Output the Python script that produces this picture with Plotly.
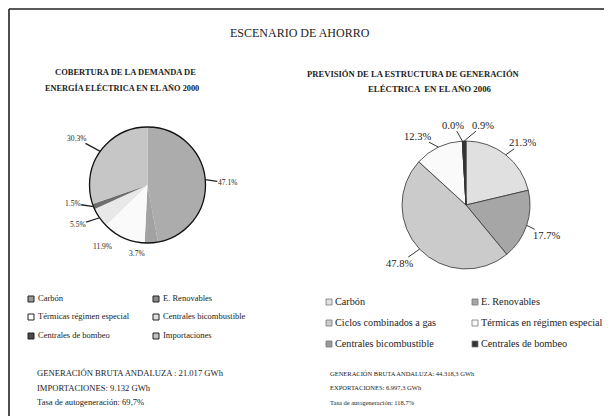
import math
import plotly.graph_objects as go

# ---- data ----
left_labels = ["Carbón", "E. Renovables", "Térmicas régimen especial",
               "Centrales bicombustible", "Centrales de bombeo", "Importaciones"]
left_values = [47.1, 3.7, 11.9, 5.5, 1.5, 30.3]
left_colors = ["#acacac", "#a2a2a2", "#fafafa", "#e8e8e8", "#6e6e6e", "#c6c6c6"]
left_legend_colors = ["#9a9a9a", "#8a8a8a", "#ffffff", "#e0e0e0", "#4a4a4a", "#c0c0c0"]

right_labels = ["Carbón", "E. Renovables", "Ciclos combinados a gas",
                "Térmicas en régimen especial", "Centrales bicombustible", "Centrales de bombeo"]
right_values = [21.3, 17.7, 47.8, 12.3, 0.0, 0.9]
right_colors = ["#e0e0e0", "#a6a6a6", "#cbcbcb", "#fafafa", "#9a9a9a", "#333333"]

main_title = "ESCENARIO DE AHORRO"
left_title = ["COBERTURA DE LA DEMANDA DE", "ENERGÍA ELÉCTRICA EN EL AÑO 2000"]
right_title = ["PREVISIÓN DE LA ESTRUCTURA DE GENERACIÓN", "ELÉCTRICA  EN EL AÑO 2006"]
left_notes = ["GENERACIÓN BRUTA ANDALUZA : 21.017 GWh",
              "IMPORTACIONES: 9.132 GWh",
              "Tasa de autogeneración: 69,7%"]
right_notes = ["GENERACIÓN BRUTA ANDALUZA: 44.318,3 GWh",
               "EXPORTACIONES: 6.997,3 GWh",
               "Tasa de autogeneración: 118,7%"]

SERIF = "Liberation Serif, Times New Roman, serif"

# page body has an 8px margin; the figure fills the rest of the window
OFF = 8
W, H = 612 - OFF, 416 - OFF


def px(x):
    return (x - OFF) / W


def py(y):
    return 1 - (y - OFF) / H


# pie geometry (window pixels)
lcx, lcy, lr = 147.5, 185, 58
rcx, rcy, rr = 466, 205, 64

# label placement (pixel offset of label from the slice edge, leader line or not)
left_label_off = [(22, 3, True), (-14, 11, False), (-21, 9, False),
                  (-22, 7, True), (-21, -3, True), (-24, -13, True)]
right_label_off = [(17, -12, True), (20, 10, True), (-20, 14, True),
                   (-21, -11, True), (-9, -16, True), (19, -16, True)]

fig = go.Figure()
fig.add_trace(go.Pie(
    labels=left_labels, values=left_values, textinfo="none",
    sort=False, direction="clockwise", rotation=0,
    marker=dict(colors=left_colors, line=dict(width=0)),
    domain=dict(x=[px(lcx - lr), px(lcx + lr)], y=[py(lcy + lr), py(lcy - lr)]),
    showlegend=False, automargin=False, hoverinfo="label+percent",
))
fig.add_trace(go.Pie(
    labels=right_labels, values=right_values, textinfo="none",
    sort=False, direction="clockwise", rotation=0,
    marker=dict(colors=right_colors, line=dict(width=0.8, color="#333")),
    domain=dict(x=[px(rcx - rr), px(rcx + rr)], y=[py(rcy + rr), py(rcy - rr)]),
    showlegend=False, automargin=False, hoverinfo="label+percent",
))

shapes = []
annotations = []

# frame
shapes.append(dict(type="line", xref="paper", yref="paper", x0=px(9), x1=1, y0=py(9), y1=py(9),
                   line=dict(color="#222", width=1.6)))
shapes.append(dict(type="line", xref="paper", yref="paper", x0=px(9), x1=px(9), y0=py(9), y1=0,
                   line=dict(color="#222", width=1.6)))
# outer border of left pie
shapes.append(dict(type="circle", xref="paper", yref="paper",
                   x0=px(lcx - lr), x1=px(lcx + lr), y0=py(lcy + lr), y1=py(lcy - lr),
                   line=dict(color="#111", width=1.3)))


def text(x, y, s, size, bold=False, anchor="left"):
    annotations.append(dict(
        x=px(x), y=py(y), xref="paper", yref="paper", text=f"<b>{s}</b>" if bold else s,
        showarrow=False, xanchor=anchor, yanchor="middle",
        font=dict(family=SERIF, size=size, color="#222")))


def pie_labels(values, cx, cy, r, offs, size, lw):
    total = sum(values)
    cum = 0.0
    for v, (dx, dy, line) in zip(values, offs):
        theta = 2 * math.pi * (cum + v / 2) / total
        cum += v
        ex, ey = cx + r * math.sin(theta), cy - r * math.cos(theta)
        s = f"{v:.1f}%"
        if line:
            annotations.append(dict(
                x=px(ex), y=py(ey), xref="paper", yref="paper", text=s,
                showarrow=True, arrowhead=0, arrowwidth=lw, arrowcolor="#222",
                ax=dx, ay=dy, standoff=0, startstandoff=0, borderpad=0,
                font=dict(family=SERIF, size=size, color="#222")))
        else:
            text(ex + dx, ey + dy, s, size, anchor="center")


pie_labels(left_values, lcx, lcy, lr, left_label_off, 7.5, 1.3)
pie_labels(right_values, rcx, rcy, rr, right_label_off, 10.5, 0.9)

text(300, 33, main_title, 12, anchor="center")
text(125, 72, left_title[0], 8.5, bold=True, anchor="center")
text(122, 88, left_title[1], 8.3, bold=True, anchor="center")
text(413, 74, right_title[0], 8.6, bold=True, anchor="center")
text(430, 89, right_title[1], 8.8, bold=True, anchor="center")

# left legend (2 columns)
lcols = [31, 156]
lrows = [299, 317, 336]
for i, (lab, col) in enumerate(zip(left_labels, left_legend_colors)):
    cx, cy = lcols[i % 2], lrows[i // 2]
    shapes.append(dict(type="rect", xref="paper", yref="paper",
                       x0=px(cx - 3), x1=px(cx + 3), y0=py(cy + 3), y1=py(cy - 3),
                       fillcolor=col, line=dict(color="#222", width=1)))
    text(cx + 5, cy - 1, lab, 8.5)

# right legend
rcols = [329, 475]
rrows = [302, 323, 344]
for i, (lab, col) in enumerate(zip(right_labels, right_colors)):
    cx, cy = rcols[i % 2], rrows[i // 2]
    shapes.append(dict(type="rect", xref="paper", yref="paper",
                       x0=px(cx - 3), x1=px(cx + 3), y0=py(cy + 3), y1=py(cy - 3),
                       fillcolor=col, line=dict(color="#777", width=0.8)))
    text(cx + 4, cy - 0.5, lab, 10.2)

for j, s in enumerate(left_notes):
    text(35, 373 + 14.5 * j, s, 8.6)
for j, s in enumerate(right_notes):
    text(328, 373 + 14.5 * j, s, 6.5)

fig.update_layout(
    width=W, height=H, margin=dict(l=0, r=0, t=0, b=0),
    paper_bgcolor="white", plot_bgcolor="white",
    shapes=shapes, annotations=annotations,
)

fig.write_html("out.html")
